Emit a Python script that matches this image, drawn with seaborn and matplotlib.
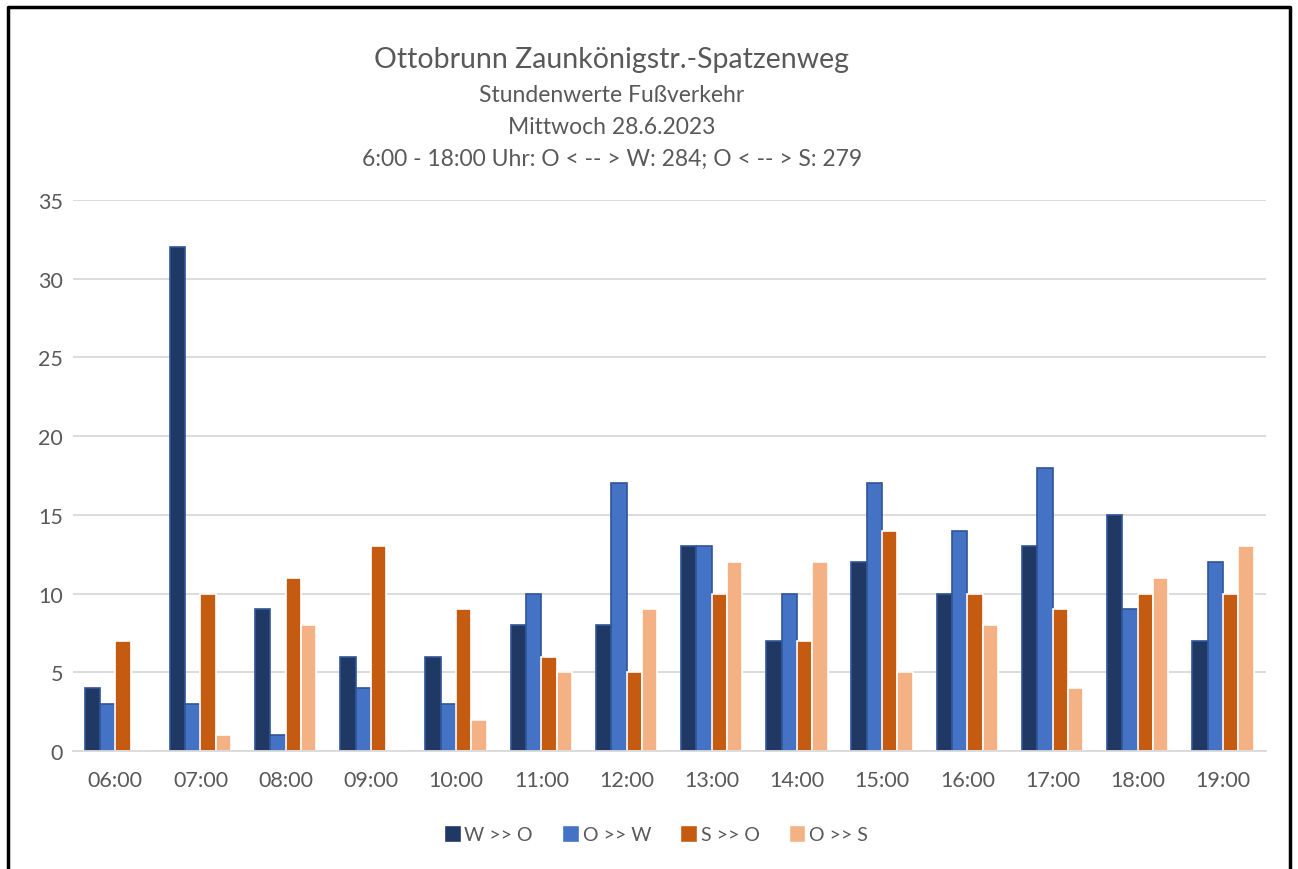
import seaborn as sns
import pandas as pd
import matplotlib.pyplot as plt
from matplotlib.lines import Line2D

hours = ['06:00', '07:00', '08:00', '09:00', '10:00', '11:00', '12:00',
         '13:00', '14:00', '15:00', '16:00', '17:00', '18:00', '19:00']
w_o = [4, 32, 9, 6, 6, 8, 8, 13, 7, 12, 10, 13, 15, 7]
o_w = [3, 3, 1, 4, 3, 10, 17, 13, 10, 17, 14, 18, 9, 12]
s_o = [7, 10, 11, 13, 9, 6, 5, 10, 7, 14, 10, 9, 10, 10]
o_s = [0, 1, 8, 0, 2, 5, 9, 12, 12, 5, 8, 4, 11, 13]
series = ['W >> O', 'O >> W', 'S >> O', 'O >> S']
colors = ['#203864', '#4472C4', '#C55A11', '#F4B183']
edges = ['#2F5597', '#2F5597', '#FFFFFF', '#FFFFFF']

df = pd.DataFrame({'hour': hours * 4,
                   'value': w_o + o_w + s_o + o_s,
                   'dir': [s for s in series for _ in hours]})

sns.set_style('white')
plt.rcParams['font.family'] = ['Lato', 'DejaVu Sans']
grey = '#595959'

fig = plt.figure(figsize=(12.98, 8.70), dpi=100)
ax = fig.add_axes([0.056, 0.1356, 0.919, 0.6334])
ax.set_axisbelow(True)
ax.yaxis.grid(True, color='#d9d9d9', linewidth=1.3)

sns.barplot(data=df, x='hour', y='value', hue='dir', palette=colors,
            width=0.72, ax=ax, saturation=1, legend=True)
for cont, ec in zip(ax.containers, edges):
    for bar in cont:
        bar.set_edgecolor(ec)
        bar.set_linewidth(1.2)

ax.set_ylim(0, 35)
ax.set_yticks(range(0, 36, 5))
ax.set_xlabel('')
ax.set_ylabel('')
for side in ['left', 'right', 'top']:
    ax.spines[side].set_visible(False)
ax.spines['bottom'].set_color('#d9d9d9')
ax.spines['bottom'].set_linewidth(1.3)
ax.tick_params(axis='both', length=0, labelsize=15.5, colors=grey)
ax.tick_params(axis='x', pad=14)
ax.tick_params(axis='y', pad=7)

handles, labels = ax.get_legend_handles_labels()
ax.legend(handles, labels, loc='center', bbox_to_anchor=(656 / 1298, 1 - 835 / 870),
          bbox_transform=fig.transFigure, ncol=4, frameon=False, fontsize=14,
          handlelength=0.85, handleheight=0.95, handletextpad=0.2, columnspacing=1.5,
          labelcolor=grey)

cx = 612 / 1298
fig.text(cx, 1 - 60 / 870, 'Ottobrunn Zaunkönigstr.-Spatzenweg', ha='center', va='center',
         fontsize=20.5, color=grey)
fig.text(cx, 1 - 95 / 870, 'Stundenwerte Fußverkehr', ha='center', va='center',
         fontsize=16.5, color=grey)
fig.text(cx, 1 - 127 / 870, 'Mittwoch 28.6.2023', ha='center', va='center',
         fontsize=16.5, color=grey)
fig.text(cx, 1 - 159 / 870, '6:00 - 18:00 Uhr: O < -- > W: 284; O < -- > S: 279',
         ha='center', va='center', fontsize=16.5, color=grey)

# frame of the chart object
fx = [8 / 1298, 8 / 1298, 1290 / 1298, 1290 / 1298]
fy = [0, 1 - 8 / 870, 1 - 8 / 870, 0]
fig.add_artist(Line2D(fx, fy, color='black', linewidth=2.5, transform=fig.transFigure))

fig.savefig('out.png', dpi=100, facecolor='white')
